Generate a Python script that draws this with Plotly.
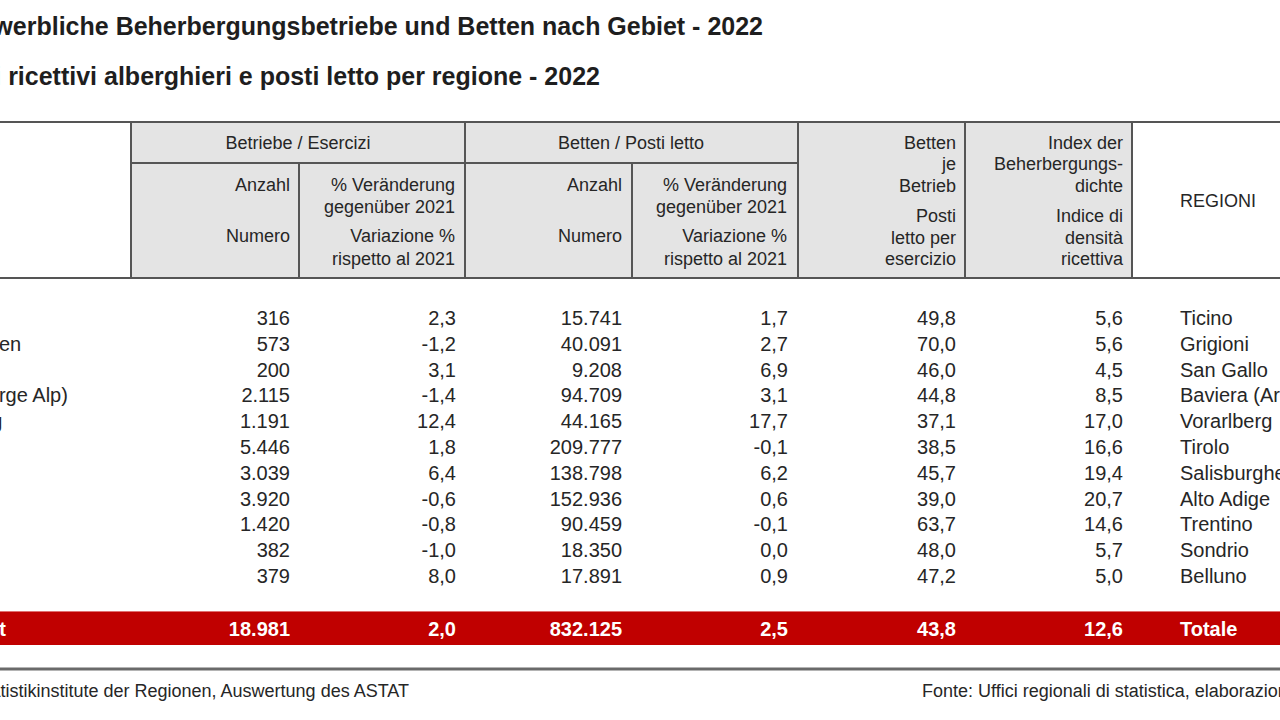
import plotly.graph_objects as go

# ---------------- data ----------------
regioni_de = ["Tessin", "Graubünden", "St. Gallen", "Bayern (Arge Alp)", "Vorarlberg", "Tirol",
              "Salzburg", "Südtirol", "Trentino", "Sondrio", "Belluno"]
regioni_it = ["Ticino", "Grigioni", "San Gallo", "Baviera (Arge Alp)", "Vorarlberg", "Tirolo",
              "Salisburghese", "Alto Adige", "Trentino", "Sondrio", "Belluno"]
betriebe = [316, 573, 200, 2115, 1191, 5446, 3039, 3920, 1420, 382, 379]
betriebe_var = [2.3, -1.2, 3.1, -1.4, 12.4, 1.8, 6.4, -0.6, -0.8, -1.0, 8.0]
betten = [15741, 40091, 9208, 94709, 44165, 209777, 138798, 152936, 90459, 18350, 17891]
betten_var = [1.7, 2.7, 6.9, 3.1, 17.7, -0.1, 6.2, 0.6, -0.1, 0.0, 0.9]
betten_je_betrieb = [49.8, 70.0, 46.0, 44.8, 37.1, 38.5, 45.7, 39.0, 63.7, 48.0, 47.2]
dichte_index = [5.6, 5.6, 4.5, 8.5, 17.0, 16.6, 19.4, 20.7, 14.6, 5.7, 5.0]

totale_label_de = "Insgesamt"
totale_label_it = "Totale"
totale_values = [18981, 2.0, 832125, 2.5, 43.8, 12.6]

title_de = "Gewerbliche Beherbergungsbetriebe und Betten nach Gebiet - 2022"
title_it = "Esercizi ricettivi alberghieri e posti letto per regione - 2022"
source_de = "Quelle: Statistikinstitute der Regionen, Auswertung des ASTAT"
source_it = "Fonte: Uffici regionali di statistica, elaborazione ASTAT"

group_headers = ["Betriebe / Esercizi", "Betten / Posti letto"]
sub_headers = [
    ["Anzahl", "", "Numero", ""],
    ["% Veränderung", "gegenüber 2021", "Variazione %", "rispetto al 2021"],
    ["Anzahl", "", "Numero", ""],
    ["% Veränderung", "gegenüber 2021", "Variazione %", "rispetto al 2021"],
]
tall_headers = [
    ["Betten", "je", "Betrieb", "Posti", "letto per", "esercizio"],
    ["Index der", "Beherbergungs-", "dichte", "Indice di", "densità", "ricettiva"],
]
regioni_header = "REGIONI"


def fmt_int(v):
    return f"{v:,}".replace(",", ".")


def fmt_dec(v):
    return f"{v:.1f}".replace(".", ",")


# ---------------- layout constants (pixels) ----------------
FONT = "Arial, Liberation Sans, sans-serif"
TXT = "#262626"
LINE = "#555555"
HEAD_FILL = "#e4e4e4"
RED = "#c00000"

COL_RIGHT = [290, 456, 622, 788, 956, 1123]
HEAD_RIGHT = [290, 455, 622, 787]
REG_X = 1180
DE_X = -90
DE_TOTAL_X = -93
ROW0 = 318
ROW_STEP = 25.8
TOTAL_Y = 629
FS = 20
HFS = 18
TEXT_DY = 2

rows_y = [ROW0 + i * ROW_STEP for i in range(len(regioni_it))]

fig = go.Figure()


def text_trace(xs, ys, texts, pos, size=FS, color=TXT, weight="normal"):
    fig.add_trace(go.Scatter(
        x=xs, y=[y + TEXT_DY for y in ys], text=texts, mode="text", textposition=pos,
        textfont=dict(family=FONT, size=size, color=color, weight=weight),
        hoverinfo="skip", showlegend=False, cliponaxis=True,
    ))


# data columns
columns = [
    [fmt_int(v) for v in betriebe],
    [fmt_dec(v) for v in betriebe_var],
    [fmt_int(v) for v in betten],
    [fmt_dec(v) for v in betten_var],
    [fmt_dec(v) for v in betten_je_betrieb],
    [fmt_dec(v) for v in dichte_index],
]
for cx, col in zip(COL_RIGHT, columns):
    text_trace([cx] * len(col), rows_y, col, "middle left")

text_trace([REG_X] * len(regioni_it), rows_y, regioni_it, "middle right")
text_trace([DE_X] * len(regioni_de), rows_y, regioni_de, "middle right")

# total row
tot_txt = [fmt_int(totale_values[0]), fmt_dec(totale_values[1]), fmt_int(totale_values[2]),
           fmt_dec(totale_values[3]), fmt_dec(totale_values[4]), fmt_dec(totale_values[5])]
text_trace(COL_RIGHT, [TOTAL_Y] * 6, tot_txt, "middle left", color="white", weight="bold")
text_trace([REG_X], [TOTAL_Y], [totale_label_it], "middle right", color="white", weight="bold")
text_trace([DE_TOTAL_X], [TOTAL_Y], [totale_label_de], "middle right", color="white", weight="bold")

# header texts
text_trace([298, 631], [142, 142], group_headers, "middle center", size=HFS)
sub_y = [184, 206, 235, 258]
for cx, lines in zip(HEAD_RIGHT, sub_headers):
    ys = [y for y, t in zip(sub_y, lines) if t]
    ts = [t for t in lines if t]
    text_trace([cx] * len(ts), ys, ts, "middle left", size=HFS)
tall_y = [142, 163, 185, 215, 237, 258]
for cx, lines in zip([956, 1123], tall_headers):
    text_trace([cx] * len(lines), tall_y, lines, "middle left", size=HFS)
text_trace([REG_X], [200], [regioni_header], "middle right", size=HFS)

# titles and sources
text_trace([763], [27], [title_de], "middle left", size=25, color="#1e1e1e", weight="bold")
text_trace([600], [77], [title_it], "middle left", size=25, color="#1e1e1e", weight="bold")
text_trace([409], [690], [source_de], "middle left", size=18)
text_trace([922], [690], [source_it], "middle right", size=18)

# ---------------- shapes ----------------
shapes = []
shapes.append(dict(type="rect", x0=131, x1=1132, y0=122, y1=278, fillcolor=HEAD_FILL,
                   line=dict(width=0), layer="below"))
shapes.append(dict(type="rect", x0=-5, x1=1285, y0=611, y1=645, fillcolor=RED,
                   line=dict(width=0), layer="below"))
shapes.append(dict(type="line", x0=-5, x1=1285, y0=611.5, y1=611.5,
                   line=dict(color="#e07070", width=1), layer="below"))
for y in [122, 278]:
    shapes.append(dict(type="line", x0=-5, x1=1285, y0=y, y1=y, line=dict(color=LINE, width=2)))
shapes.append(dict(type="line", x0=131, x1=798, y0=163, y1=163, line=dict(color=LINE, width=2)))
shapes.append(dict(type="line", x0=-5, x1=1285, y0=669, y1=669, line=dict(color="#6a6a6a", width=3)))
for x in [131, 465, 798, 965, 1132]:
    shapes.append(dict(type="line", x0=x, x1=x, y0=122, y1=278, line=dict(color=LINE, width=2)))
for x in [299, 632]:
    shapes.append(dict(type="line", x0=x, x1=x, y0=163, y1=278, line=dict(color=LINE, width=2)))

fig.update_layout(
    width=1280, height=720,
    margin=dict(l=0, r=0, t=0, b=0),
    paper_bgcolor="white", plot_bgcolor="white",
    xaxis=dict(range=[0, 1280], visible=False, fixedrange=True),
    yaxis=dict(range=[720, 0], visible=False, fixedrange=True),
    shapes=shapes,
    showlegend=False,
)

fig.write_html(
    "out.html",
    config={"displayModeBar": False},
    post_script="document.body.style.margin='0';document.body.style.overflow='hidden';",
)
